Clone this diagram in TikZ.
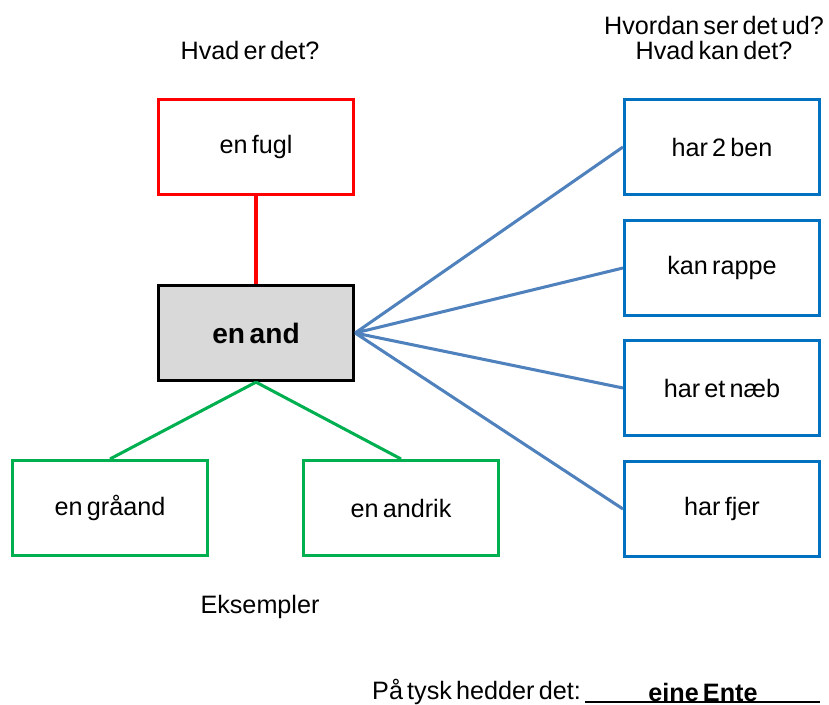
\documentclass[tikz,border=0pt]{standalone}
\usepackage{fontspec}
\setmainfont{Liberation Sans}[WordSpace=0.6]
\usetikzlibrary{positioning}

\definecolor{fuglred}{RGB}{255,0,0}
\definecolor{eksgreen}{RGB}{0,176,80}
\definecolor{boxblue}{RGB}{0,112,192}
\definecolor{lineblue}{RGB}{79,129,189}
\definecolor{andgray}{RGB}{217,217,217}

\begin{document}
\begin{tikzpicture}[x=0.03cm, y=-0.03cm]
  \tikzstyle{every node} = [font=\fontsize{21.5}{25}\selectfont];
  \tikzstyle{box} = [draw, line width=2.6pt, minimum width=5.85cm, minimum height=2.85cm, inner sep=0pt];
  \tikzstyle{label} = [inner sep=0pt, align=center];
  \tikzstyle{link} = [line width=2.6pt];

  \useasboundingbox (0,0) rectangle (829,705);

  \node[box, fuglred] (fugl) at (256,147) {\color{black}en fugl};
  \node[box, fill=andgray, line width=2.8pt, font=\fontsize{24}{28}\selectfont\bfseries] (and) at (256,333) {en and};
  \node[box, eksgreen] (graaand) at (110,508) {\color{black}en gråand};
  \node[box, eksgreen] (andrik) at (401,508) {\color{black}en andrik};

  \node[box, boxblue] (ben) at (722,147) {\color{black}har 2 ben};
  \node[box, boxblue] (rappe) at (722,268) {\color{black}kan rappe};
  \node[box, boxblue] (naeb) at (722,388) {\color{black}har et næb};
  \node[box, boxblue] (fjer) at (722,509) {\color{black}har fjer};

  \node[label] (hvad) at (250,50) {Hvad er det?};
  \node[label] (hvordan) at (714,38) {Hvordan ser det ud?\\[-4pt] Hvad kan det?};
  \node[label] (eks) at (260,607) {Eksempler};
  \node[label, anchor=west] (tysk) at (372,692) {På tysk hedder det:};
  \node[label] (ente) at (703,692) {\textbf{eine Ente}};
  \coordinate (linea) at (585,702);
  \coordinate (lineb) at (820,702);

  \draw[link, fuglred] (fugl) -- (and);
  \draw[link, eksgreen] (and.south) -- (graaand.north) (and.south) -- (andrik.north);
  \draw[link, lineblue] (and.east) -- (ben.west) (and.east) -- (rappe.west)
    (and.east) -- (naeb.west) (and.east) -- (fjer.west);
  \draw[line width=1.3pt] (linea) -- (lineb);
\end{tikzpicture}
\end{document}
